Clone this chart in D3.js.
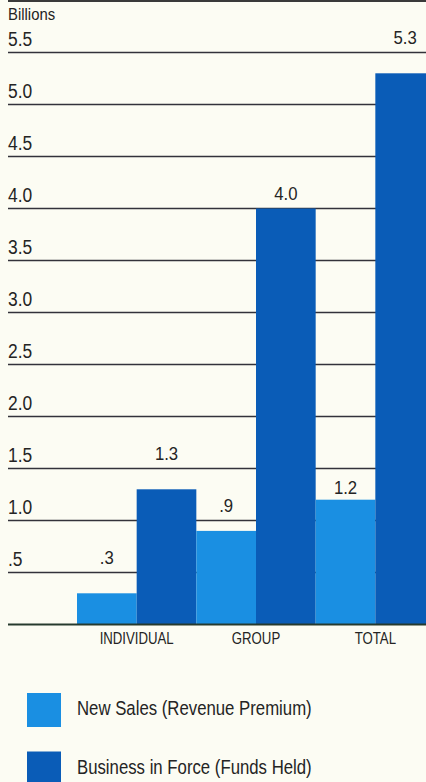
<!DOCTYPE html>
<html>
<head>
<meta charset="utf-8">
<script src="https://cdn.jsdelivr.net/npm/d3@7"></script>
<style>
  html, body { margin: 0; padding: 0; background: #fcfcf3; }
  svg { display: block; }
  text { font-family: "Liberation Sans", Arial, Helvetica, sans-serif; fill: #242424; }
</style>
</head>
<body>
<script>
// Chart data
const categories = ["INDIVIDUAL", "GROUP", "TOTAL"];
const seriesNames = ["New Sales (Revenue Premium)", "Business in Force (Funds Held)"];
const newSales = [0.3, 0.9, 1.2];
const businessInForce = [1.3, 4.0, 5.3];
const tickValues = [0.5, 1.0, 1.5, 2.0, 2.5, 3.0, 3.5, 4.0, 4.5, 5.0, 5.5];
const tickLabels = [".5", "1.0", "1.5", "2.0", "2.5", "3.0", "3.5", "4.0", "4.5", "5.0", "5.5"];
const unitLabel = "Billions";

const W = 426, H = 782;
const colors = ["#1a8fe2", "#0a5cb7"];
const ruleLeft = 8;

const svg = d3.select("body").append("svg")
  .attr("width", W).attr("height", H)
  .style("background", "#fcfcf3");

const y = d3.scaleLinear().domain([0, 5.5]).range([624.5, 52.5]);
const x0 = d3.scaleBand().domain(categories).range([77, 435]).paddingInner(0).paddingOuter(0);
const x1 = d3.scaleBand().domain([0, 1]).range([0, x0.bandwidth()]).padding(0);

// condensed-looking text: horizontal squeeze around the anchor point
function label(g, px, py, str, size, sx, anchor) {
  return g.append("text")
    .attr("transform", `translate(${px},${py}) scale(${sx},1)`)
    .attr("text-anchor", anchor || "start")
    .style("font-size", size + "px")
    .text(str);
}

// top rule
svg.append("line")
  .attr("x1", ruleLeft).attr("x2", W).attr("y1", 1).attr("y2", 1)
  .attr("stroke", "#3a3a3a").attr("stroke-width", 2);

label(svg, ruleLeft, 20, unitLabel, 16, 0.93);

// gridlines with their labels
const grid = svg.append("g");
tickValues.forEach((v, i) => {
  grid.append("line")
    .attr("x1", ruleLeft).attr("x2", W)
    .attr("y1", y(v)).attr("y2", y(v))
    .attr("stroke", "#33323a").attr("stroke-width", 1.6);
  label(grid, ruleLeft, y(v) - 7, tickLabels[i], 20, 0.87);
});

// bars
const rows = categories.map((c, i) => ({ cat: c, values: [newSales[i], businessInForce[i]] }));
const groups = svg.append("g").selectAll("g").data(rows).join("g")
  .attr("transform", d => `translate(${x0(d.cat)},0)`);

groups.selectAll("rect").data(d => d.values.map((v, k) => ({ v, k }))).join("rect")
  .attr("x", d => x1(d.k))
  .attr("width", x1.bandwidth())
  .attr("y", d => y(d.v))
  .attr("height", d => y(0) - y(d.v))
  .attr("fill", d => colors[d.k]);

// baseline
svg.append("line")
  .attr("x1", ruleLeft).attr("x2", W).attr("y1", y(0)).attr("y2", y(0))
  .attr("stroke", "#263a2e").attr("stroke-width", 2);

// value labels: sit above the gridline just over the bar when it is close,
// otherwise directly on top of the bar
const fmt = v => d3.format(".1f")(v).replace(/^0\./, ".");
const valueLayer = svg.append("g");
rows.forEach(r => {
  r.values.forEach((v, k) => {
    const cx = x0(r.cat) + x1(k) + x1.bandwidth() / 2;
    const tick = tickValues.find(t => t >= v - 1e-9);
    const gap = y(v) - y(tick);
    const ty = gap <= 25 ? y(tick) - 9 : y(v) - 6;
    label(valueLayer, cx, ty, fmt(v), 19, 0.88, "middle");
  });
});

// category labels
categories.forEach(c => {
  label(svg, x0(c) + x0.bandwidth() / 2, 644, c, 16.5, 0.8, "middle");
});

// legend
const legend = svg.append("g");
seriesNames.forEach((name, i) => {
  const top = 693 + i * 58.5;
  legend.append("rect")
    .attr("x", 27).attr("y", top).attr("width", 34).attr("height", 34)
    .attr("fill", colors[i]);
  label(legend, 77, top + 22, name, 19.5, 0.86);
});
</script>
</body>
</html>
